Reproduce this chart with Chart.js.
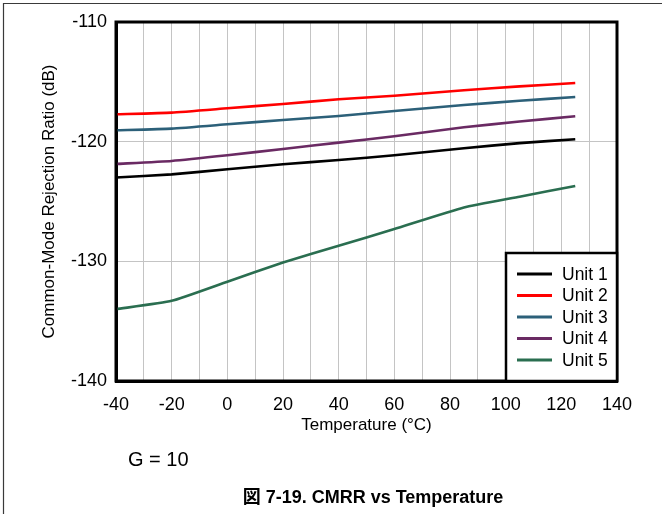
<!DOCTYPE html>
<html>
<head>
<meta charset="utf-8">
<script src="https://cdn.jsdelivr.net/npm/chart.js@4/dist/chart.umd.min.js"></script>
<style>
  html, body { margin: 0; padding: 0; background: #fff; }
  #wrap { width: 662px; height: 514px; }
</style>
</head>
<body>
<div id="wrap"><canvas id="c" width="662" height="514"></canvas></div>
<script>
const temps = [-40, -20, 0, 20, 40, 60, 85, 105, 125];
const unit1 = [-123.0, -122.73, -122.31, -121.89, -121.53, -121.14, -120.55, -120.12, -119.8];
const unit2 = [-117.71, -117.57, -117.21, -116.85, -116.46, -116.16, -115.7, -115.38, -115.1];
const unit3 = [-119.05, -118.91, -118.55, -118.19, -117.85, -117.44, -116.94, -116.58, -116.27];
const unit4 = [-121.86, -121.61, -121.14, -120.61, -120.08, -119.55, -118.8, -118.32, -117.88];
const unit5 = [-134.0, -133.3, -131.7, -130.1, -128.7, -127.3, -125.5, -124.6, -123.7];
const seriesNames = ['Unit 1', 'Unit 2', 'Unit 3', 'Unit 4', 'Unit 5'];
const seriesColors = ['#000000', '#ff0000', '#2c6079', '#6a2a63', '#2a6e50'];
const xTickMin = -40, xTickMax = 140;
const yTickMin = -140, yTickMax = -110;
const xTitle = 'Temperature (\u00B0C)';
const yTitle = 'Common-Mode Rejection Ratio (dB)';
const noteText = 'G = 10';
const captionText = '\u56F3 7-19. CMRR vs Temperature';

const FONT = "'Liberation Sans', Arial, 'Noto Sans CJK JP', sans-serif";
const allSeries = [unit1, unit2, unit3, unit4, unit5];

const datasets = allSeries.map((vals, i) => ({
  label: seriesNames[i],
  data: temps.map((t, j) => ({ x: t, y: vals[j] })),
  borderColor: seriesColors[i],
  backgroundColor: seriesColors[i],
  borderWidth: 2.6,
  pointRadius: 0,
  tension: 0.15,
  fill: false
}));

const decorPlugin = {
  id: 'decor',
  beforeDraw(chart) {
    const ctx = chart.ctx;
    ctx.save();
    ctx.fillStyle = '#fff';
    ctx.fillRect(0, 0, chart.width, chart.height);
    ctx.restore();
  },
  afterDatasetsDraw(chart) {
    const ctx = chart.ctx;
    const a = chart.chartArea;
    ctx.save();
    // plot frame
    ctx.strokeStyle = '#000';
    ctx.lineWidth = 3;
    ctx.strokeRect(a.left, a.top, a.right - a.left, a.bottom - a.top);
    // outer frame
    ctx.strokeStyle = '#3a3a3a';
    ctx.lineWidth = 1.2;
    ctx.beginPath();
    ctx.moveTo(3.5, chart.height);
    ctx.lineTo(3.5, 3.5);
    ctx.lineTo(chart.width, 3.5);
    ctx.stroke();
    // legend box
    const lx = a.right - 111, ly = a.bottom - 128, lw = 111, lh = 128;
    ctx.fillStyle = '#fff';
    ctx.fillRect(lx, ly, lw, lh);
    ctx.strokeStyle = '#000';
    ctx.lineWidth = 2.5;
    ctx.strokeRect(lx, ly, lw, lh);
    ctx.font = '17.5px ' + FONT;
    ctx.textBaseline = 'middle';
    ctx.textAlign = 'left';
    chart.data.datasets.forEach((ds, i) => {
      const yy = ly + 21 + i * 21.5;
      ctx.strokeStyle = ds.borderColor;
      ctx.lineWidth = 3;
      ctx.beginPath();
      ctx.moveTo(lx + 11, yy);
      ctx.lineTo(lx + 46, yy);
      ctx.stroke();
      ctx.fillStyle = '#000';
      ctx.fillText(ds.label, lx + 56, yy + 1);
    });
    // note and caption
    ctx.fillStyle = '#000';
    ctx.font = '20px ' + FONT;
    ctx.textAlign = 'left';
    ctx.fillText(noteText, 128, 460);
    ctx.font = 'bold 18px ' + FONT;
    ctx.textAlign = 'center';
    ctx.fillText(captionText, 373, 498);
    ctx.restore();
  }
};

new Chart(document.getElementById('c'), {
  type: 'line',
  data: { datasets },
  options: {
    responsive: false,
    animation: false,
    devicePixelRatio: 1,
    layout: { padding: { left: 0, right: 45, top: 22, bottom: 73 } },
    plugins: { legend: { display: false }, tooltip: { enabled: false } },
    scales: {
      x: {
        type: 'linear',
        min: xTickMin, max: xTickMax,
        afterFit(s) { s.height = 60; },
        ticks: {
          stepSize: 10,
          autoSkip: false,
          maxRotation: 0,
          padding: 13,
          color: '#000',
          font: { family: FONT, size: 18 },
          callback: v => (v % 20 === 0 ? String(v) : '')
        },
        grid: { color: '#c4c4c4', lineWidth: 1, drawTicks: false },
        border: { color: '#000', width: 3 },
        title: {
          display: true, text: xTitle, color: '#000',
          font: { family: FONT, size: 17 },
          padding: { top: 0, bottom: 5 }
        }
      },
      y: {
        type: 'linear',
        min: yTickMin, max: yTickMax,
        afterFit(s) { s.width = 116; },
        ticks: {
          stepSize: 10,
          padding: 9,
          color: '#000',
          font: { family: FONT, size: 18 }
        },
        grid: { color: '#c4c4c4', lineWidth: 1, drawTicks: false },
        border: { color: '#000', width: 3 },
        title: {
          display: true, text: yTitle, color: '#000',
          font: { family: FONT, size: 17 },
          padding: { top: 39, bottom: 0 }
        }
      }
    }
  },
  plugins: [decorPlugin]
});
</script>
</body>
</html>
